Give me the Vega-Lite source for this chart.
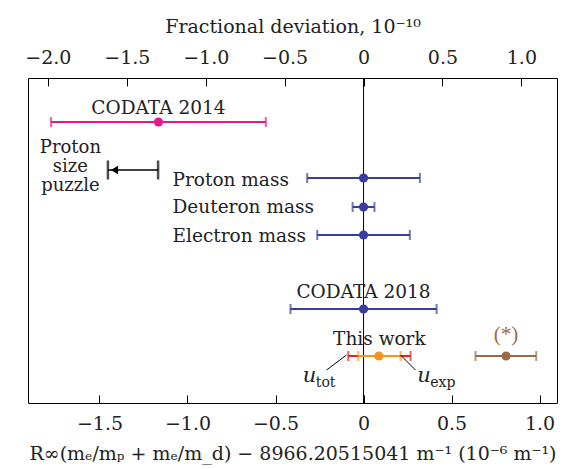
{
  "$schema": "https://vega.github.io/schema/vega-lite/v6.json",
  "width": 529,
  "height": 325,
  "autosize": {"type": "none"},
  "padding": {"left": 28, "top": 78, "right": 24, "bottom": 66},
  "background": "white",
  "config": {
    "view": {"stroke": "black", "strokeWidth": 1},
    "axis": {
      "domain": false,
      "grid": false,
      "tickColor": "black",
      "tickWidth": 1,
      "tickSize": -8,
      "labelFont": "DejaVu Serif",
      "labelFontSize": 19,
      "labelColor": "#222222",
      "titleFont": "DejaVu Serif",
      "titleFontSize": 19,
      "titleFontWeight": "normal",
      "titleColor": "#222222"
    },
    "text": {"font": "DejaVu Serif", "fontSize": 18.5, "color": "#222222"}
  },
  "datasets": {
    "bars": [
      {"series": "c2014", "x": -1.165, "lo": -1.775, "hi": -0.555, "y": 1.76},
      {"series": "blue", "x": 0, "lo": -0.32, "hi": 0.32, "y": 4.0},
      {"series": "blue", "x": 0, "lo": -0.062, "hi": 0.062, "y": 5.16},
      {"series": "blue", "x": 0, "lo": -0.263, "hi": 0.263, "y": 6.28},
      {"series": "blue", "x": 0, "lo": -0.415, "hi": 0.415, "y": 9.24},
      {"series": "tot", "x": 0.087, "lo": -0.087, "hi": 0.267, "y": 11.12},
      {"series": "exp", "x": 0.087, "lo": -0.03, "hi": 0.21, "y": 11.12},
      {"series": "star", "x": 0.81, "lo": 0.636, "hi": 0.981, "y": 11.12}
    ],
    "labels": [
      {"text": "CODATA 2014", "x": -1.165, "y": 1.44, "align": "center", "series": "text"},
      {"text": "Proton mass", "x": -1.085, "y": 4.32, "align": "left", "series": "text"},
      {"text": "Deuteron mass", "x": -1.085, "y": 5.41, "align": "left", "series": "text"},
      {"text": "Electron mass", "x": -1.085, "y": 6.55, "align": "left", "series": "text"},
      {"text": "CODATA 2018", "x": 0, "y": 8.8, "align": "center", "series": "text"},
      {"text": "This work", "x": 0.09, "y": 10.68, "align": "center", "series": "text"}
    ],
    "starlabel": [
      {"text": "(*)", "x": 0.81, "y": 10.5, "series": "star"}
    ],
    "puzzle": [
      {"text": ["Proton", "size", "puzzle"], "x": -1.665, "y": 2.98, "from": -1.452, "to": -1.167, "ya": 3.68, "head": -1.415}
    ],
    "ulabels": [
      {"u": "u", "sub": "tot", "x": -0.345, "y": 12.15, "lx1": -0.21, "lx2": -0.097, "ly1": 11.68, "ly2": 11.08},
      {"u": "u", "sub": "exp", "x": 0.305, "y": 12.15, "lx1": 0.21, "lx2": 0.295, "ly1": 11.08, "ly2": 11.68}
    ],
    "zero": [{"x": 0}],
    "topaxis": [{"frac": 0}],
    "bottomaxis": [{"bx": 0}]
  },
  "layer": [
    {
      "layer": [
        {
          "data": {"name": "zero"},
          "mark": {"type": "rule", "color": "black", "strokeWidth": 1},
          "encoding": {
            "x": {"field": "x", "type": "quantitative", "axis": null, "scale": {"domain": [-1.906, 1.099], "nice": false, "zero": false}}
          }
        },
        {
          "data": {"name": "bars"},
          "mark": {"type": "rule", "strokeWidth": 2},
          "encoding": {
            "x": {"field": "lo", "type": "quantitative", "axis": null, "scale": {"domain": [-1.906, 1.099], "nice": false, "zero": false}},
            "x2": {"field": "hi"},
            "y": {"field": "y", "type": "quantitative", "axis": null, "scale": {"domain": [0, 13], "reverse": true, "nice": false, "zero": false}},
            "color": {
              "field": "series",
              "type": "nominal",
              "legend": null,
              "scale": {
                "domain": ["c2014", "blue", "tot", "exp", "star", "text"],
                "range": ["#e8178a", "#3a3d9c", "#ed1c24", "#f7941d", "#9a6b45", "#222222"]
              }
            }
          }
        },
        {
          "data": {"name": "bars"},
          "mark": {"type": "tick", "orient": "vertical", "size": 10, "thickness": 2},
          "encoding": {
            "x": {"field": "lo", "type": "quantitative", "axis": null},
            "y": {"field": "y", "type": "quantitative", "axis": null},
            "color": {"field": "series", "type": "nominal", "legend": null}
          }
        },
        {
          "data": {"name": "bars"},
          "mark": {"type": "tick", "orient": "vertical", "size": 10, "thickness": 2},
          "encoding": {
            "x": {"field": "hi", "type": "quantitative", "axis": null},
            "y": {"field": "y", "type": "quantitative", "axis": null},
            "color": {"field": "series", "type": "nominal", "legend": null}
          }
        },
        {
          "data": {"name": "bars"},
          "transform": [{"filter": "datum.series != 'tot'"}],
          "mark": {"type": "circle", "size": 85, "opacity": 1},
          "encoding": {
            "x": {"field": "x", "type": "quantitative", "axis": null},
            "y": {"field": "y", "type": "quantitative", "axis": null},
            "color": {"field": "series", "type": "nominal", "legend": null}
          }
        },
        {
          "data": {"name": "labels"},
          "transform": [{"filter": "datum.align == 'center'"}],
          "mark": {"type": "text", "align": "center", "baseline": "alphabetic"},
          "encoding": {
            "x": {"field": "x", "type": "quantitative", "axis": null},
            "y": {"field": "y", "type": "quantitative", "axis": null},
            "text": {"field": "text"},
            "color": {"field": "series", "type": "nominal", "legend": null}
          }
        },
        {
          "data": {"name": "labels"},
          "transform": [{"filter": "datum.align == 'left'"}],
          "mark": {"type": "text", "align": "left", "baseline": "alphabetic"},
          "encoding": {
            "x": {"field": "x", "type": "quantitative", "axis": null},
            "y": {"field": "y", "type": "quantitative", "axis": null},
            "text": {"field": "text"},
            "color": {"field": "series", "type": "nominal", "legend": null}
          }
        },
        {
          "data": {"name": "starlabel"},
          "mark": {"type": "text", "align": "center", "baseline": "alphabetic", "fontSize": 21, "font": "Liberation Serif"},
          "encoding": {
            "x": {"field": "x", "type": "quantitative", "axis": null},
            "y": {"field": "y", "type": "quantitative", "axis": null},
            "text": {"field": "text"},
            "color": {"field": "series", "type": "nominal", "legend": null}
          }
        },
        {
          "data": {"name": "puzzle"},
          "mark": {"type": "text", "align": "center", "baseline": "alphabetic", "fontSize": 18, "lineHeight": 19, "color": "#222222"},
          "encoding": {
            "x": {"field": "x", "type": "quantitative", "axis": null},
            "y": {"field": "y", "type": "quantitative", "axis": null},
            "text": {"field": "text"}
          }
        },
        {
          "data": {"name": "puzzle"},
          "mark": {"type": "rule", "color": "black", "strokeWidth": 1.5},
          "encoding": {
            "x": {"field": "from", "type": "quantitative", "axis": null},
            "x2": {"field": "to"},
            "y": {"field": "ya", "type": "quantitative", "axis": null}
          }
        },
        {
          "data": {"name": "puzzle"},
          "mark": {"type": "tick", "orient": "vertical", "size": 19, "thickness": 2.5, "color": "black"},
          "encoding": {
            "x": {"field": "from", "type": "quantitative", "axis": null},
            "y": {"field": "ya", "type": "quantitative", "axis": null}
          }
        },
        {
          "data": {"name": "puzzle"},
          "mark": {"type": "tick", "orient": "vertical", "size": 19, "thickness": 2.5, "color": "black"},
          "encoding": {
            "x": {"field": "to", "type": "quantitative", "axis": null},
            "y": {"field": "ya", "type": "quantitative", "axis": null}
          }
        },
        {
          "data": {"name": "puzzle"},
          "mark": {"type": "point", "shape": "triangle-left", "filled": true, "size": 70, "color": "black", "opacity": 1},
          "encoding": {
            "x": {"field": "head", "type": "quantitative", "axis": null},
            "y": {"field": "ya", "type": "quantitative", "axis": null}
          }
        },
        {
          "data": {"name": "ulabels"},
          "mark": {"type": "rule", "color": "black", "strokeWidth": 1},
          "encoding": {
            "x": {"field": "lx1", "type": "quantitative", "axis": null},
            "x2": {"field": "lx2"},
            "y": {"field": "ly1", "type": "quantitative", "axis": null},
            "y2": {"field": "ly2"}
          }
        },
        {
          "data": {"name": "ulabels"},
          "mark": {"type": "text", "align": "left", "baseline": "alphabetic", "fontStyle": "italic", "fontSize": 21, "color": "#222222"},
          "encoding": {
            "x": {"field": "x", "type": "quantitative", "axis": null},
            "y": {"field": "y", "type": "quantitative", "axis": null},
            "text": {"field": "u"}
          }
        },
        {
          "data": {"name": "ulabels"},
          "mark": {"type": "text", "align": "left", "baseline": "alphabetic", "fontSize": 14, "dx": 13, "dy": 5, "color": "#222222"},
          "encoding": {
            "x": {"field": "x", "type": "quantitative", "axis": null},
            "y": {"field": "y", "type": "quantitative", "axis": null},
            "text": {"field": "sub"}
          }
        }
      ]
    },
    {
      "data": {"name": "bottomaxis"},
      "mark": {"type": "point", "opacity": 0},
      "encoding": {
        "x": {
          "field": "bx",
          "type": "quantitative",
          "scale": {"domain": [-1.906, 1.099], "nice": false, "zero": false},
          "axis": {
            "orient": "bottom",
            "values": [-1.5, -1, -0.5, 0, 0.5, 1],
            "labelExpr": "datum.value == 0 ? '0' : format(datum.value, '.1f')",
            "labelPadding": 19,
            "titlePadding": 11,
            "title": "R∞(mₑ/mₚ + mₑ/m_d) − 8966.20515041 m⁻¹ (10⁻⁶ m⁻¹)"
          }
        }
      }
    },
    {
      "data": {"name": "topaxis"},
      "mark": {"type": "point", "opacity": 0},
      "encoding": {
        "x": {
          "field": "frac",
          "type": "quantitative",
          "scale": {"domain": [-2.1258, 1.2258], "nice": false, "zero": false},
          "axis": {
            "orient": "top",
            "values": [-2, -1.5, -1, -0.5, 0, 0.5, 1],
            "labelExpr": "datum.value == 0 ? '0' : format(datum.value, '.1f')",
            "labelPadding": 19,
            "titlePadding": 12,
            "title": "Fractional deviation, 10⁻¹⁰"
          }
        }
      }
    }
  ],
  "resolve": {"scale": {"x": "independent"}, "axis": {"x": "independent"}}
}
